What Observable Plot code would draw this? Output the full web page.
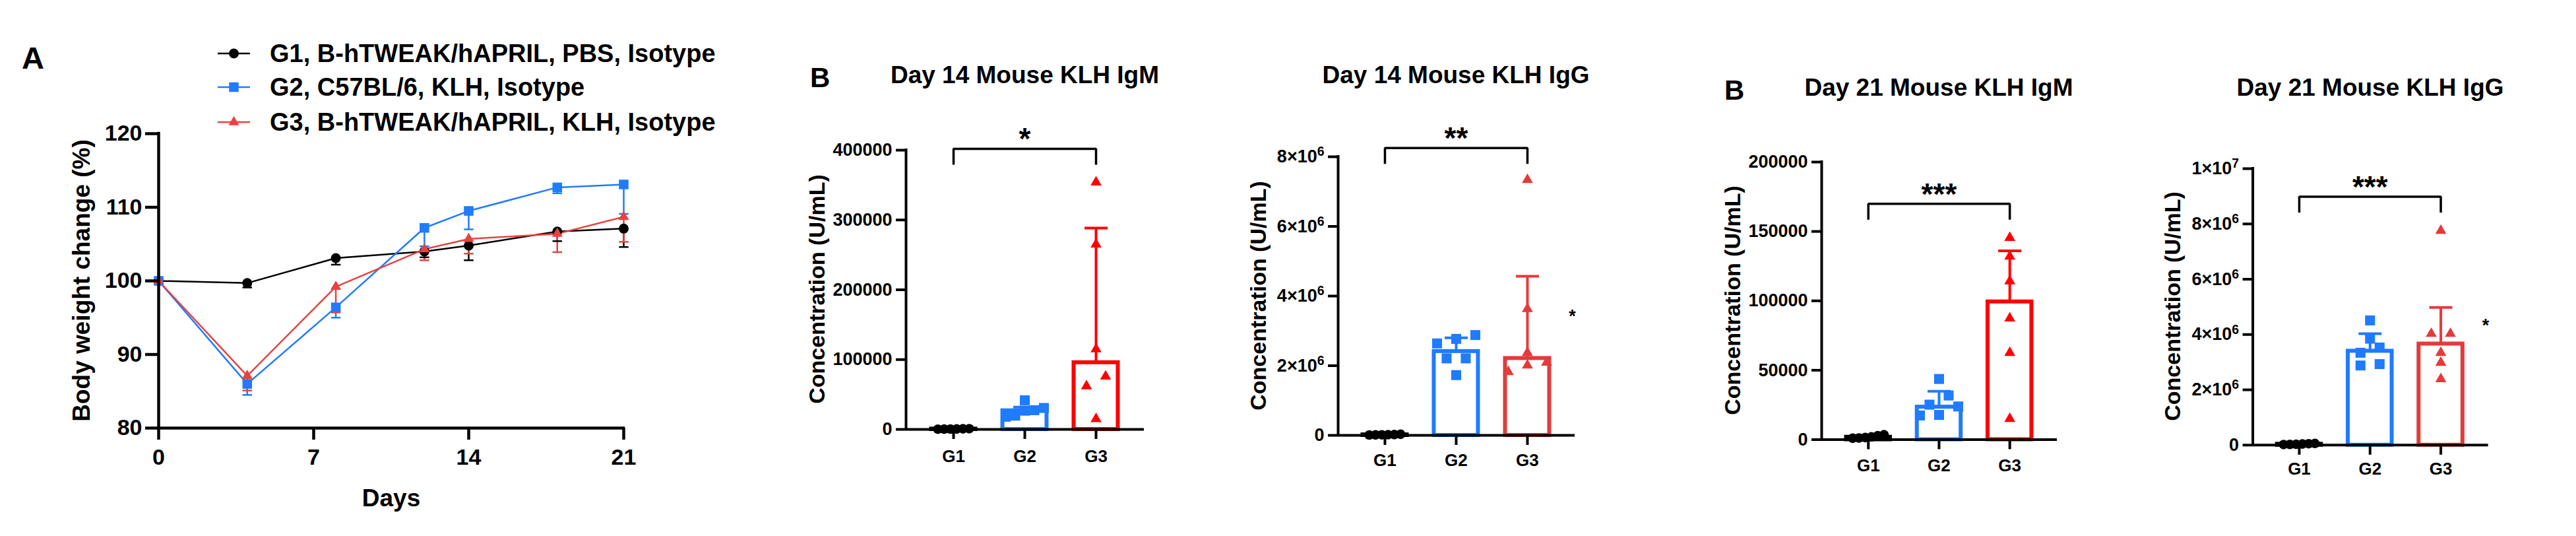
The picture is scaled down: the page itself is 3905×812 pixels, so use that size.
<!DOCTYPE html>
<html>
<head>
<meta charset="utf-8">
<script src="https://cdn.jsdelivr.net/npm/d3@7"></script>
<script src="https://cdn.jsdelivr.net/npm/@observablehq/plot@0.6"></script>
<style>
html, body { margin: 0; padding: 0; background: #fff; }
#root { position: relative; width: 3905px; height: 812px; overflow: hidden; background: #fff; }
.panel { position: absolute; top: 0; }
.panel svg { max-width: none !important; background: transparent !important; }
#overlay { position: absolute; left: 0; top: 0; pointer-events: none; }
</style>
</head>
<body>
<div id="root"></div>
<script>
// ---------------- DATA ----------------
const categories = ["G1", "G2", "G3"];
const legendLabels = [
  "G1, B-hTWEAK/hAPRIL, PBS, Isotype",
  "G2, C57BL/6, KLH, Isotype",
  "G3, B-hTWEAK/hAPRIL, KLH, Isotype"
];

// Panel A: body weight change (%) — mean and lower error (SEM)
const days = [0, 4, 8, 12, 14, 18, 21];
const dayTicks = [0, 7, 14, 21];
const weightTicks = [80, 90, 100, 110, 120];
const weightG1 = [100, 99.7, 103.1, 104.0, 104.8, 106.7, 107.1];
const weightG2 = [100, 86.0, 96.4, 107.2, 109.5, 112.7, 113.1];
const weightG3 = [100, 87.1, 99.2, 104.3, 105.7, 106.4, 108.7];
const errG1 = [0, 0.6, 0.9, 0.8, 2.0, 1.3, 2.5];
const errG2 = [0, 1.5, 1.4, 2.5, 2.5, 0.8, 4.0];
const errG3 = [0, 2.0, 3.5, 1.5, 2.0, 2.5, 3.4];

// Panel B: Day 14 IgM (U/mL)
const d14IgM_G1 = [500, 800, 300, 1000, 600, 400];
const d14IgM_G2 = [19700, 30700, 26800, 27500, 41700, 18100];
const d14IgM_G3 = [354000, 265000, 115000, 76000, 62000, 15000];
const d14IgM_bar = [600, 26800, 95700];
const d14IgM_err = [900, 32000, 288400];
const d14IgM_ticks = [0, 100000, 200000, 300000, 400000];

// Day 14 IgG
const d14IgG_G1 = [15000, 22000, 9000, 30000, 18000, 12000];
const d14IgG_G2 = [2770000, 2880000, 2640000, 2210000, 2210000, 1730000];
const d14IgG_G3 = [7340000, 3630000, 2370000, 2090000, 2010000, 1820000];
const d14IgG_bar = [17000, 2410000, 2210000];
const d14IgG_err = [25000, 2800000, 4570000];
const d14IgG_ticks = [0, 2e6, 4e6, 6e6, 8e6];

// Day 21 IgM
const d21IgM_G1 = [1500, 3500, 1000, 2800, 1200, 2000];
const d21IgM_G2 = [43700, 31800, 25200, 23900, 17400, 17800];
const d21IgM_G3 = [145500, 132000, 114200, 87400, 62600, 15000];
const d21IgM_bar = [1800, 23500, 99300];
const d21IgM_err = [2800, 34800, 136000];
const d21IgM_ticks = [0, 50000, 100000, 150000, 200000];

// Day 21 IgG
const d21IgG_G1 = [30000, 50000, 20000, 40000, 60000, 25000];
const d21IgG_G2 = [4510000, 3850000, 3530000, 3340000, 2930000, 2880000];
const d21IgG_G3 = [7760000, 4030000, 4030000, 3340000, 2980000, 2390000];
const d21IgG_bar = [35000, 3400000, 3660000];
const d21IgG_err = [50000, 4030000, 4980000];
const d21IgG_ticks = [0, 2e6, 4e6, 6e6, 8e6, 1e7];

// significance annotations (bracket level in data units)
const sigLabels = ["*", "**", "***", "***"];
const sigLevels = [402000, 8.25e6, 169900, 8.985e6];
const sideStarLevels = [null, 3.55e6, null, 4.48e6];

const panelTitles = ["Day 14 Mouse KLH IgM", "Day 14 Mouse KLH IgG", "Day 21 Mouse KLH IgM", "Day 21 Mouse KLH IgG"];
const yTitleB = "Concentration (U/mL)";

// ---------------- STYLE ----------------
const FONT = "'Liberation Sans', Arial, Helvetica, sans-serif";
const BLUE = "#1f7bff";
const RED_M = "#ff0000";
const RED_G = "#e23b3b";
const RED_A = "#e8423f";

const root = document.getElementById("root");
function place(node, left) {
  const div = document.createElement("div");
  div.className = "panel";
  div.style.left = left + "px";
  div.appendChild(node);
  root.appendChild(div);
}
const capSymbol = {
  draw(context, size) {
    const w = Math.sqrt(size);
    context.moveTo(-w / 2, 0);
    context.lineTo(w / 2, 0);
  }
};

// ---------------- PANEL A ----------------
const weights = [weightG1, weightG2, weightG3];
const errs = [errG1, errG2, errG3];
const weightRows = [];
categories.forEach((g, gi) => days.forEach((d, i) => weightRows.push({
  group: g, day: d, value: weights[gi][i], lower: weights[gi][i] - errs[gi][i]
})));
const colorsA = ["#000000", BLUE, RED_A];
const capRowsA = weightRows.filter(d => d.lower < d.value);

const plotA = Plot.plot({
  width: 1150, height: 812,
  marginLeft: 240, marginRight: 205, marginTop: 202, marginBottom: 164,
  x: {domain: [0, 21]},
  y: {domain: [80, 120]},
  color: {domain: categories, range: colorsA},
  style: {fontFamily: FONT, fontWeight: "bold", fontSize: "34px", background: "transparent", color: "#000"},
  marks: [
    Plot.ruleX(weightRows, {x: "day", y1: "value", y2: "lower", stroke: "group", strokeWidth: 2.5}),
    Plot.dot(capRowsA, {x: "day", y: "lower", symbol: capSymbol, r: 14.5 / Math.sqrt(Math.PI), stroke: "group", fill: "none", strokeWidth: 2.5}),
    Plot.line(weightRows, {x: "day", y: "value", z: "group", stroke: "group", strokeWidth: 2.5}),
    Plot.dot(weightRows.filter(d => d.group === "G1"), {x: "day", y: "value", r: 7.5, symbol: "circle", fill: colorsA[0]}),
    Plot.dot(weightRows.filter(d => d.group === "G2"), {x: "day", y: "value", r: 8.2, symbol: "square", fill: colorsA[1]}),
    Plot.dot(weightRows.filter(d => d.group === "G3"), {x: "day", y: "value", r: 6, symbol: "triangle", fill: colorsA[2]}),
    Plot.ruleX([0], {y1: 80, y2: 120, strokeWidth: 4.5, strokeLinecap: "square"}),
    Plot.ruleY([80], {x1: 0, x2: 21, strokeWidth: 4.5, strokeLinecap: "square"}),
    Plot.axisY({ticks: weightTicks, tickSize: 20, tickPadding: 5, fontSize: 34, strokeWidth: 4.5, label: null, tickFormat: d => String(d)}),
    Plot.axisX({ticks: dayTicks, tickSize: 18, tickPadding: 13, fontSize: 34, strokeWidth: 4.5, label: null, tickFormat: d => String(d)})
  ]
});
place(plotA, 0);

// ---------------- PANELS B ----------------
function swarmOffsets(vals, pxPerUnit, denseStep) {
  const idx = vals.map((v, i) => i).sort((a, b) => vals[a] - vals[b]);
  const rows = [];
  let cur = null;
  for (const i of idx) {
    if (cur && (vals[i] - vals[cur[0]]) * pxPerUnit < 15) cur.push(i);
    else { cur = [i]; rows.push(cur); }
  }
  const off = new Array(vals.length).fill(0);
  for (const r of rows) {
    const step = r.length > 3 ? denseStep : 29;
    r.forEach((i, k) => { off[i] = (k - (r.length - 1) / 2) * step; });
  }
  return off;
}

function igFormat(d) {
  if (d === 0) return "0";
  if (d >= 1e7) return (d / 1e7) + "×10⁷";
  return (d / 1e6) + "×10⁶";
}
const supMap = {"⁰": "0", "¹": "1", "²": "2", "³": "3", "⁴": "4", "⁵": "5", "⁶": "6", "⁷": "7", "⁸": "8", "⁹": "9"};

// turn unicode superscripts in tick labels into raised tspans (larger, like the reference)
function raiseSuperscripts(svgNode) {
  d3.select(svgNode).selectAll("text").each(function () {
    const s = this.textContent;
    const m = /^(.*×10)([⁰¹²³⁴⁵⁶⁷⁸⁹]+)$/.exec(s);
    if (!m) return;
    const sel = d3.select(this);
    sel.text(null);
    sel.append("tspan").text(m[1]);
    sel.append("tspan").attr("dy", "-0.5em").attr("font-size", "0.72em")
      .text(m[2].split("").map(c => supMap[c]).join(""));
  });
}

function barPanel(cfg) {
  const {left, width, mL, mR, mT, mB, xDomain, yMax, ticks, fmt, colors, values, bars, errTops,
         sigLabel, sigY, sideStarY, xPad} = cfg;
  const height = 812;
  const pxX = (width - mL - mR) / (xDomain[1] - xDomain[0]);
  const pxY = (height - mT - mB) / yMax;
  const pts = [];
  values.forEach((vals, gi) => {
    const off = swarmOffsets(vals, pxY, gi === 0 ? 9.5 : 14.5);
    vals.forEach((v, i) => pts.push({gi, group: categories[gi], x: gi + 1 + off[i] / pxX, y: v}));
  });
  const barRows = categories.map((g, gi) => ({group: g, x: gi + 1, base: 0, bar: bars[gi], err: errTops[gi]}));
  const legY = sigY - 24 / pxY;
  const bracket = [{x: 1, y: legY}, {x: 1, y: sigY}, {x: 3, y: sigY}, {x: 3, y: legY}];
  const marks = [
    Plot.rect(barRows, {x1: d => d.x - 0.31, x2: d => d.x + 0.31, y1: "base", y2: "bar", stroke: "group", fill: "none", strokeWidth: 6}),
    Plot.ruleX(barRows, {x: "x", y1: "bar", y2: "err", stroke: "group", strokeWidth: 4}),
    Plot.dot(barRows, {x: "x", y: "err", symbol: capSymbol, r: 35 / Math.sqrt(Math.PI), stroke: "group", fill: "none", strokeWidth: 4}),
    Plot.ruleY([0], {x1: xDomain[0], x2: xDomain[1], strokeWidth: 4}),
    Plot.ruleX([xDomain[0]], {y1: 0, y2: yMax, strokeWidth: 4, strokeLinecap: "square"}),
    Plot.axisY({ticks, tickFormat: fmt, tickSize: 15, tickPadding: 6, fontSize: 27, strokeWidth: 4, label: null}),
    Plot.axisX({ticks: [1, 2, 3], tickFormat: d => categories[d - 1], tickSize: 15, tickPadding: xPad, fontSize: 26, strokeWidth: 4, label: null}),
    Plot.dot(pts.filter(d => d.gi === 0), {x: "x", y: "y", r: 7.3, symbol: "circle", fill: colors[0]}),
    Plot.dot(pts.filter(d => d.gi === 1), {x: "x", y: "y", r: 8.5, symbol: "square", fill: colors[1]}),
    Plot.dot(pts.filter(d => d.gi === 2), {x: "x", y: "y", r: 6.2, symbol: "triangle", fill: colors[2]}),
    Plot.line(bracket, {x: "x", y: "y", stroke: "#000", strokeWidth: 3.5, strokeLinejoin: "miter", strokeLinecap: "butt"}),
    Plot.text([{x: 2, y: sigY, t: sigLabel}], {x: "x", y: "y", text: "t", fontSize: 46, fontWeight: "bold", dy: -14})
  ];
  if (sideStarY != null) {
    marks.push(Plot.text([{x: 3 + 68 / pxX, y: sideStarY, t: "*"}], {x: "x", y: "y", text: "t", fontSize: 27, fontWeight: "bold", dy: 7}));
  }
  const p = Plot.plot({
    width, height,
    marginLeft: mL, marginRight: mR, marginTop: mT, marginBottom: mB,
    x: {domain: xDomain},
    y: {domain: [0, yMax]},
    color: {domain: categories, range: colors},
    style: {fontFamily: FONT, fontWeight: "bold", fontSize: "27px", background: "transparent", color: "#000", overflow: "visible"},
    marks
  });
  raiseSuperscripts(p);
  place(p, left);
}

barPanel({left: 1190, width: 600, mL: 183, mR: 56, mT: 227, mB: 162, xDomain: [0.333, 3.676], yMax: 400000,
  ticks: d14IgM_ticks, fmt: d => String(d), colors: ["#000", BLUE, RED_M],
  values: [d14IgM_G1, d14IgM_G2, d14IgM_G3], bars: d14IgM_bar, errTops: d14IgM_err,
  sigLabel: sigLabels[0], sigY: sigLevels[0], sideStarY: sideStarLevels[0], xPad: 16});

barPanel({left: 1850, width: 600, mL: 178, mR: 63, mT: 237, mB: 153, xDomain: [0.343, 3.667], yMax: 8e6,
  ticks: d14IgG_ticks, fmt: igFormat, colors: ["#000", BLUE, RED_G],
  values: [d14IgG_G1, d14IgG_G2, d14IgG_G3], bars: d14IgG_bar, errTops: d14IgG_err,
  sigLabel: sigLabels[1], sigY: sigLevels[1], sideStarY: sideStarLevels[1], xPad: 13});

barPanel({left: 2560, width: 600, mL: 201, mR: 42, mT: 245, mB: 146.5, xDomain: [0.34, 3.67], yMax: 200000,
  ticks: d21IgM_ticks, fmt: d => String(d), colors: ["#000", BLUE, RED_M],
  values: [d21IgM_G1, d21IgM_G2, d21IgM_G3], bars: d21IgM_bar, errTops: d21IgM_err,
  sigLabel: sigLabels[2], sigY: sigLevels[2], sideStarY: sideStarLevels[2], xPad: 15});

barPanel({left: 3230, width: 600, mL: 184.6, mR: 58.3, mT: 255, mB: 138.2, xDomain: [0.344, 3.672], yMax: 1e7,
  ticks: d21IgG_ticks, fmt: igFormat, colors: ["#000", BLUE, RED_G],
  values: [d21IgG_G1, d21IgG_G2, d21IgG_G3], bars: d21IgG_bar, errTops: d21IgG_err,
  sigLabel: sigLabels[3], sigY: sigLevels[3], sideStarY: sideStarLevels[3], xPad: 11});

// ---------------- OVERLAY TEXT (titles, labels, legend) ----------------
const svg = d3.select(root).append("svg").attr("id", "overlay")
  .attr("width", 3905).attr("height", 812)
  .style("font-family", FONT).style("font-weight", "bold");

function txt(x, y, s, size, opts = {}) {
  const t = svg.append("text").attr("x", x).attr("y", y).attr("font-size", size).attr("fill", "#000").text(s);
  if (opts.anchor) t.attr("text-anchor", opts.anchor);
  if (opts.baseline) t.attr("dominant-baseline", opts.baseline);
  if (opts.rotate) t.attr("transform", `rotate(${opts.rotate},${x},${y})`);
  return t;
}

// panel letters
txt(33, 104, "A", 47);
txt(1228, 132, "B", 42);
txt(2614, 151, "B", 42);

// legend (panel A)
const legendY = [81, 132, 185];
const legendSymbols = [d3.symbolCircle, d3.symbolSquare, d3.symbolTriangle];
const legendR = [7.5, 8.2, 6];
categories.forEach((g, i) => {
  svg.append("line").attr("x1", 330).attr("x2", 379).attr("y1", legendY[i]).attr("y2", legendY[i])
    .attr("stroke", colorsA[i]).attr("stroke-width", 2.5);
  svg.append("path").attr("d", d3.symbol(legendSymbols[i], Math.PI * legendR[i] * legendR[i])())
    .attr("transform", `translate(354.5,${legendY[i]})`).attr("fill", colorsA[i]);
  txt(409, legendY[i], legendLabels[i], 38, {baseline: "central"});
});

// panel A axis titles
txt(123, 425, "Body weight change (%)", 37, {anchor: "middle", baseline: "central", rotate: -90});
txt(593, 767, "Days", 37, {anchor: "middle"});

// panel B titles
const titleX = [1553.5, 2207, 2939, 3593];
const titleY = [126, 126, 145, 145];
panelTitles.forEach((t, i) => txt(titleX[i], titleY[i], t, 37, {anchor: "middle"}));

// panel B y-axis titles
const yTitleX = [1238, 1907, 2626, 3293];
const yTitleY = [438, 448, 455, 464];
yTitleX.forEach((x, i) => txt(x, yTitleY[i], yTitleB, 34, {anchor: "middle", baseline: "central", rotate: -90}));
</script>
</body>
</html>
